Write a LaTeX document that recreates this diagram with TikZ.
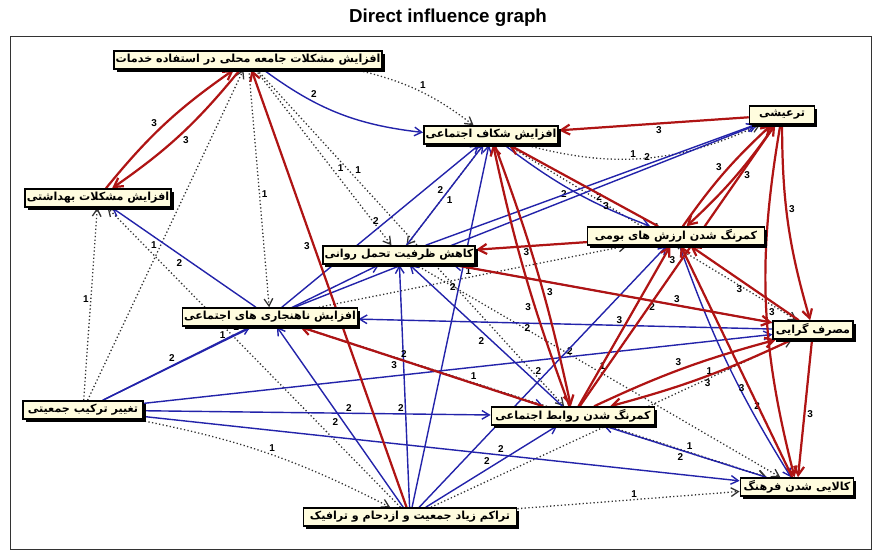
\documentclass[tikz,border=0pt]{standalone}
\usepackage{fontspec}
\newfontfamily\farsi[Script=Arabic]{DejaVu Sans}
\newfontfamily\labfont{Liberation Sans}
\TeXXeTstate=1
\usetikzlibrary{arrows.meta, shadows, backgrounds}
\definecolor{arcred}{RGB}{175,20,20}
\definecolor{arcblue}{RGB}{35,35,170}
\definecolor{boxfill}{RGB}{255,252,222}
\newcommand{\fatext}[1]{\farsi\beginR #1\endR}
\tikzset{
   box/.style = {%
    shape=rectangle,
    draw=black,
    line width=1.3pt,
    fill=boxfill,
    inner sep=1.5pt,
    minimum height=5.4mm,
    align=center,
    font=\fontsize{9.5}{9.5}\selectfont\bfseries,
    drop shadow={shadow xshift=0.8mm, shadow yshift=-0.8mm, fill=black, opacity=1}},
 strong/.style = {%
    draw=arcred,
    line width=1.9pt,% <-- weight 3
    -{Straight Barb[length=2.6mm, width=3mm]}},
 medium/.style = {%
    draw=arcblue,
    line width=1.2pt,
    -{Straight Barb[length=2.2mm, width=2.6mm]}},
 weak/.style = {%
    draw=black!80,
    dotted,
    line width=1.1pt,
    -{Straight Barb[length=2.2mm, width=2.6mm]}},
 lbl/.style = {%
    auto,
    inner sep=1pt,
    font=\labfont\bfseries\fontsize{8.5}{9}\selectfont},
    }
\begin{document}
\begin{tikzpicture}[x=0.3mm, y=-0.3mm]
    \useasboundingbox (0,0) rectangle (877,552);
    \node[font=\labfont\bfseries\fontsize{16}{18}\selectfont] (title) at (448,18) {Direct influence graph};

    \node[box, minimum width=77.5mm] (serv) at (248,60) {\fatext{افزایش مشکلات جامعه محلی در استفاده خدمات}};
    \node[box, minimum width=43mm] (hlth) at (98,198) {\fatext{افزایش مشکلات بهداشتی}};
    \node[box, minimum width=40mm] (gap)  at (491,135) {\fatext{افزایش شکاف اجتماعی}};
    \node[box, minimum width=19.5mm] (tar) at (782,115) {\fatext{ترعیشی}};
    \node[box, minimum width=53mm] (nat)  at (676,236) {\fatext{کمرنگ شدن ارزش های بومی}};
    \node[box, minimum width=45.5mm] (psy) at (399,255) {\fatext{کاهش ظرفیت تحمل روانی}};
    \node[box, minimum width=52.5mm] (anom) at (270,317) {\fatext{افزایش ناهنجاری های اجتماعی}};
    \node[box, minimum width=24mm] (cons) at (813,330) {\fatext{مصرف گرایی}};
    \node[box, minimum width=36mm] (pop)  at (83,410) {\fatext{تغییر ترکیب جمعیتی}};
    \node[box, minimum width=49mm] (rel)  at (573,416) {\fatext{کمرنگ شدن روابط اجتماعی}};
    \node[box, minimum width=34mm] (comm) at (797,487) {\fatext{کالایی شدن فرهنگ}};
    \node[box, minimum width=64mm] (dens) at (410,517) {\fatext{تراکم زیاد جمعیت و ازدحام و ترافیک}};

    \begin{scope}[on background layer]
        \draw[black!80, line width=0.8pt] (10,36) rectangle (871,549);
        % dotted arcs
        \foreach \s/\t/\w/\p/\b in {serv/gap/1/0.5/12, gap/tar/1/0.45/-20, serv/anom/1/0.55/0,
            serv/psy/1/0.6/0, pop/hlth/1/0.5/0, pop/serv/1/0.45/0, pop/dens/1/0.5/8,
            dens/comm/1/0.55/0, rel/comm/1/0.5/0, gap/psy/1/0.5/0, anom/nat/1/0.5/0,
            anom/comm/1/0.35/0, dens/cons/1/0.8/0, serv/rel/1/0.3/0, gap/cons/1/0.5/0,
            psy/comm/1/0.5/0, dens/hlth/1/0.6/0}
            \draw[weak] (\s) to[bend left=\b] node[lbl, pos=\p] {\w} (\t);
        % blue arcs
        \foreach \s/\t/\w/\p/\b in {serv/gap/2/0.3/-15, psy/gap/2/0.5/0, anom/gap/2/0.5/0,
            anom/tar/2/0.6/0, psy/tar/2/0.7/0, anom/hlth/2/0.5/0, gap/nat/2/0.65/-8,
            cons/anom/2/0.6/0, cons/psy/2/0.35/0, pop/psy/2/0.5/0, pop/anom/2/0.5/0,
            pop/rel/2/0.6/0, pop/cons/2/0.7/0, pop/comm/2/0.6/0, dens/anom/2/0.5/0,
            dens/psy/2/0.4/0, dens/gap/2/0.6/0, dens/rel/2/0.5/0, dens/nat/2/0.5/0,
            rel/psy/2/0.5/0, nat/comm/2/0.72/-6, anom/rel/2/0.4/0, comm/rel/2/0.5/0}
            \draw[medium] (\s) to[bend left=\b] node[lbl, pos=\p] {\w} (\t);
        % red arcs
        \foreach \s/\t/\w/\p/\b in {hlth/serv/3/0.45/8, serv/hlth/3/0.5/8, dens/serv/3/0.62/0,
            tar/gap/3/0.5/0, tar/nat/3/0.4/6, nat/tar/3/0.5/6, tar/cons/3/0.45/-8,
            tar/comm/3/0.55/-12, cons/comm/3/0.5/0, nat/psy/3/0.6/0, nat/gap/3/0.3/0,
            rel/gap/3/0.4/4, gap/rel/3/0.6/4, rel/nat/3/0.5/0, rel/tar/3/0.5/0,
            rel/cons/3/0.5/5, cons/rel/3/0.5/5, rel/anom/3/0.6/0, cons/nat/3/0.5/0,
            comm/nat/3/0.4/0, psy/cons/3/0.7/0}
            \draw[strong] (\s) to[bend left=\b] node[lbl, pos=\p] {\w} (\t);
    \end{scope}
\end{tikzpicture}
\end{document}
